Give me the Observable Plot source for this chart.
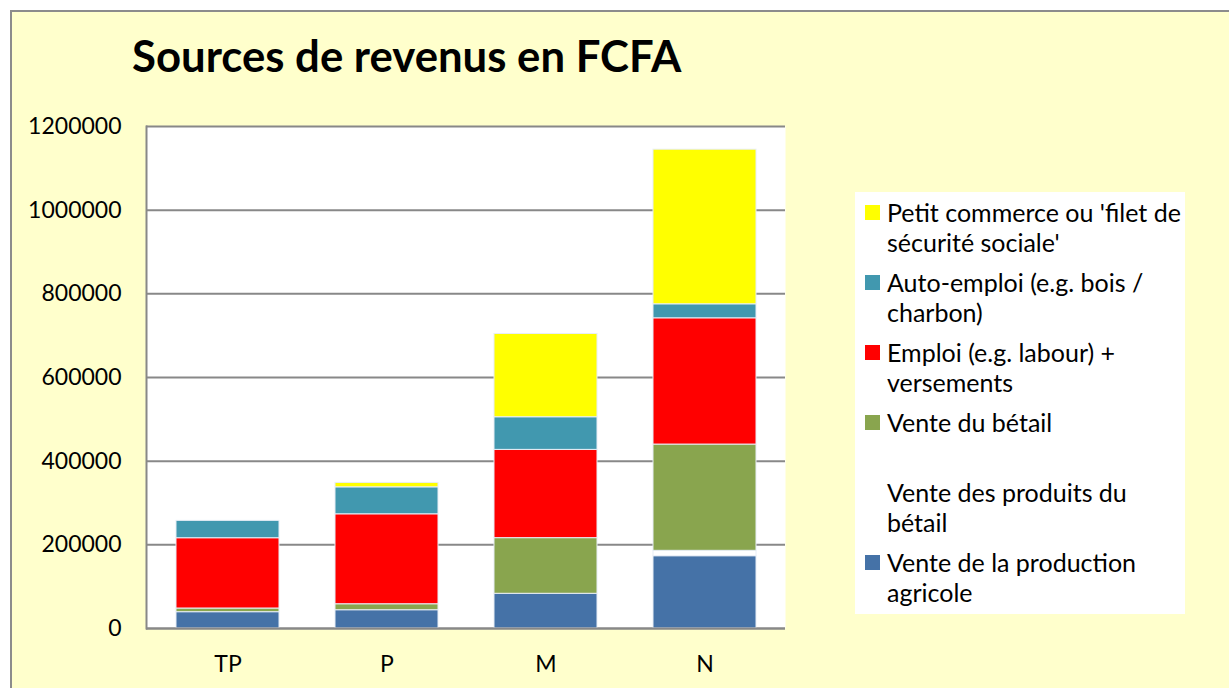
<!DOCTYPE html>
<html>
<head>
<meta charset="utf-8">
<script src="https://cdn.jsdelivr.net/npm/d3@7"></script>
<script src="https://cdn.jsdelivr.net/npm/@observablehq/plot@0.6"></script>
<style>
  html, body { margin: 0; padding: 0; background: #fff; }
  #page { position: relative; width: 1229px; height: 688px; overflow: hidden; font-family: Lato, "Open Sans", sans-serif; }
  #frame { position: absolute; left: 10px; top: 10px; width: 1240px; height: 700px; background: #FFFFCC; border: 2px solid #8c8c8c; box-sizing: border-box; }
  #title { position: absolute; left: 132px; top: 34px; font-size: 43.7px; font-weight: bold; line-height: 1; white-space: nowrap; color: #000; }
  #chart { position: absolute; left: 0; top: 0; }
  #legend { position: absolute; left: 855px; top: 192px; width: 330px; height: 422px; background: #fff; }
  .item { position: absolute; left: 0; width: 330px; }
  .sw { position: absolute; left: 10px; width: 15px; height: 15px; top: 8px; }
  .txt { position: absolute; left: 32px; font-size: 25px; line-height: 30px; color: #000; white-space: nowrap; }
</style>
</head>
<body>
<div id="page">
  <div id="frame"></div>
  <div id="title"></div>
  <div id="chart"></div>
  <div id="legend"></div>
</div>
<script>
const title = "Sources de revenus en FCFA";
const categories = ["TP", "P", "M", "N"];
// stacking order bottom -> top
const series = [
  "Vente de la production agricole",
  "Vente des produits du bétail",
  "Vente du bétail",
  "Emploi (e.g. labour) + versements",
  "Auto-emploi (e.g. bois / charbon)",
  "Petit commerce ou 'filet de sécurité sociale'"
];
const colors = ["#4572A7", "#FFFFFF", "#89A54E", "#FF0000", "#4198AF", "#FFFF00"];
// values per series, in category order TP, P, M, N
const agricole  = [39000, 43700, 83000, 172800];
const produits  = [0, 0, 0, 12900];
const betail    = [8800, 14300, 133000, 254000];
const emploi    = [168000, 215000, 211000, 301800];
const autoEmp   = [41500, 64500, 78000, 33500];
const commerce  = [0, 10500, 199000, 369600];
const yTicks = [0, 200000, 400000, 600000, 800000, 1000000, 1200000];
// legend (top -> bottom) with line breaks as shown
const legendOrder = [5, 4, 3, 2, 1, 0];
const legendLines = {
  5: ["Petit commerce ou 'filet de", "sécurité sociale'"],
  4: ["Auto-emploi (e.g. bois /", "charbon)"],
  3: ["Emploi (e.g. labour) +", "versements"],
  2: ["Vente du bétail"],
  1: ["Vente des produits du", "bétail"],
  0: ["Vente de la production", "agricole"]
};

const seriesValues = [agricole, produits, betail, emploi, autoEmp, commerce];
const rows = [];
series.forEach((s, si) => {
  categories.forEach((c, ci) => rows.push({cat: c, series: s, value: seriesValues[si][ci]}));
});

document.getElementById("title").textContent = title;

const chart = Plot.plot({
  width: 800,
  height: 688,
  marginLeft: 146,
  marginRight: 15,
  marginTop: 126,
  marginBottom: 60,
  style: {background: "transparent", fontFamily: "Lato, 'Open Sans', sans-serif", fontSize: "23px", color: "#000", overflow: "visible"},
  x: {domain: categories, paddingInner: 0.355, paddingOuter: 0.1775, label: null, tickSize: 0, tickPadding: 27},
  y: {domain: [0, 1200000], ticks: yTicks, tickFormat: d => String(d), label: null, tickSize: 0, tickPadding: 25},
  color: {domain: series, range: colors},
  marks: [
    Plot.frame({fill: "white", stroke: "none"}),
    Plot.gridY(yTicks, {stroke: "#888", strokeOpacity: 1, strokeWidth: 2}),
    Plot.frame({anchor: "left", stroke: "#888", strokeWidth: 2}),
    Plot.barY(rows, {x: "cat", y: "value", fill: "series", stroke: "#e8eef6", strokeWidth: 1}),
    Plot.ruleY([0], {stroke: "#888", strokeWidth: 2})
  ]
});
document.getElementById("chart").appendChild(chart);

const legend = document.getElementById("legend");
legendOrder.forEach((si, i) => {
  const item = document.createElement("div");
  item.className = "item";
  item.style.top = (5 + i * 70) + "px";
  if (colors[si].toUpperCase() !== "#FFFFFF") {
    const sw = document.createElement("div");
    sw.className = "sw";
    sw.style.background = colors[si];
    item.appendChild(sw);
  }
  const t = document.createElement("div");
  t.className = "txt";
  t.innerHTML = legendLines[si].map(l => l.replace(/&/g, "&amp;")).join("<br>");
  item.appendChild(t);
  legend.appendChild(item);
});
</script>
</body>
</html>
